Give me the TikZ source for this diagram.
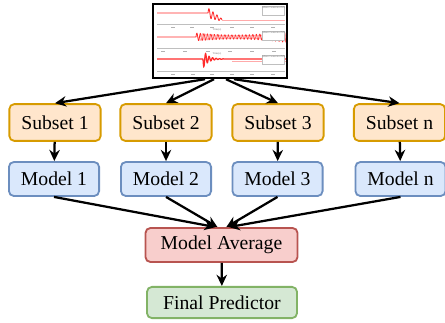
\documentclass[tikz,border=0pt]{standalone}
\usepackage{fontspec}
\setmainfont{Liberation Serif}
\usetikzlibrary{arrows.meta}

\definecolor{subfill}{HTML}{FFE6CC}
\definecolor{subline}{HTML}{D79B00}
\definecolor{modfill}{HTML}{DAE8FC}
\definecolor{modline}{HTML}{6C8EBF}
\definecolor{avgfill}{HTML}{F8CECC}
\definecolor{avgline}{HTML}{B85450}
\definecolor{finfill}{HTML}{D5E8D4}
\definecolor{finline}{HTML}{82B366}
\definecolor{sig}{HTML}{FF2A2A}

\tikzset{
  box/.style={rounded corners=3.5pt, line width=1.3pt, inner xsep=0.3cm,
    font=\rmfamily\fontsize{14}{16}\selectfont},
  subset/.style={box, draw=subline, fill=subfill, minimum height=0.92cm},
  model/.style={box, draw=modline, fill=modfill, minimum height=0.85cm},
  flow/.style={-{Stealth[length=2.8mm,width=2.6mm]}, line width=1.6pt},
  trace/.style={sig, line width=0.6pt},
  axisline/.style={gray!50, line width=0.3pt},
  tiny/.style={font=\fontsize{2}{2.2}\selectfont, text=gray, inner sep=0.2pt},
  legendbox/.style={draw=gray!50, fill=white, line width=0.2pt, minimum width=0.55cm,
    minimum height=0.22cm, inner sep=0.3pt, align=left},
}

\begin{document}
\begin{tikzpicture}[x=0.025cm, y=-0.025cm]
    \useasboundingbox (0,0) rectangle (445,322);

    % signal traces, top panel
    \draw[trace] (157,13) -- (208,13)
      plot[domain=208:222, samples=80] (\x, {13+0.5*(\x-208)-5*sin(90*(\x-208))*(1-(\x-208)/18)});
    \draw[sig!40, line width=0.6pt] (222,20) -- (285,20);
    \draw[axisline] (157,24) -- (285,24);
    \foreach \t in {173,192,212,232,252,273}
      \draw[gray!60, line width=0.4pt] (\t-2,27) -- (\t+2,27);
    \node[tiny] (time1) at (217,30) {Time(s)};
    \node[legendbox] (leg1) at (273,10.5) {};
    \node[tiny, anchor=north west] at (leg1.north west) {Mean Generator\\NN};

    % middle panel
    \draw[trace] (157,37) -- (196,37)
      plot[domain=196:287, samples=400] (\x, {37-(2+0.0012*(\x-235)^2)*sin(102.86*(\x-196))});
    \draw[sig!40, line width=0.5pt]
      plot[domain=200:287, samples=300] (\x, {37-(1.5+0.0012*(\x-240)^2)*sin(102.86*(\x-198))});
    \draw[axisline] (157,48) -- (285,48);
    \foreach \t in {163,185,208,230,252,274}
      \draw[gray!60, line width=0.4pt] (\t-2,51) -- (\t+2,51);
    \node[tiny] (time2) at (217,54) {Time(s)};
    \node[legendbox] (leg2) at (273,35.5) {};
    \node[tiny, anchor=north west] at (leg2.north west) {Mean Generator\\NN};

    % bottom panel
    \draw[trace, line width=0.9pt] (157,59) -- (203,59)
      plot[domain=203:232, samples=150] (\x, {59+9*exp(-(\x-203)/5)*sin(102.86*(\x-203))})
      -- (287,59);
    \draw[sig!40, line width=0.5pt] (232,61.5) -- (287,61.5);
    \draw[axisline] (157,71) -- (285,71);
    \foreach \t in {173,193,212,232,252,273}
      \draw[gray!60, line width=0.4pt] (\t-2,74) -- (\t+2,74);
    \node[legendbox] (leg3) at (273,59.5) {};
    \node[tiny, anchor=north west] at (leg3.north west) {Mean Generator\\NN};

    % frame round the three panels
    \node[draw, line width=1.7pt, minimum width=3.35cm, minimum height=1.85cm] (scope) at (220,41) {};

    % subsets and models
    \node[subset] (sub1) at (55,122.5) {Subset 1};
    \node[subset] (sub2) at (166,122.5) {Subset 2};
    \node[subset] (sub3) at (278,122.5) {Subset 3};
    \node[subset] (subn) at (399.5,122.5) {Subset n};
    \node[model] (mod1) at (54,179) {Model 1};
    \node[model] (mod2) at (166,179) {Model 2};
    \node[model] (mod3) at (277.5,179) {Model 3};
    \node[model] (modn) at (400.5,179) {Model n};

    % averaging and final output
    \node[box, draw=avgline, fill=avgfill, minimum width=3.8cm, minimum height=0.85cm] (avg) at (221.5,245) {Model Average};
    \node[box, draw=finline, fill=finfill, minimum width=3.75cm, minimum height=0.78cm] (final) at (222,302.5) {Final Predictor};

    % arrows
    \foreach \s/\dx in {sub1/-15, sub2/-6, sub3/6, subn/14}
      \draw[flow] ([xshift=\dx*0.025cm]scope.south) -- (\s.north);
    \foreach \s/\m in {sub1/mod1, sub2/mod2, sub3/mod3, subn/modn}
      \draw[flow] (\s) -- (\m);
    \draw[flow] (mod1.south) -- ([xshift=-0.15cm]avg.north);
    \draw[flow] (mod2.south) -- ([xshift=-0.1cm]avg.north);
    \draw[flow] (mod3.south) -- ([xshift=0.12cm]avg.north);
    \draw[flow] (modn.south) -- ([xshift=0.18cm]avg.north);
    \draw[flow] (avg) -- (final);
\end{tikzpicture}
\end{document}
